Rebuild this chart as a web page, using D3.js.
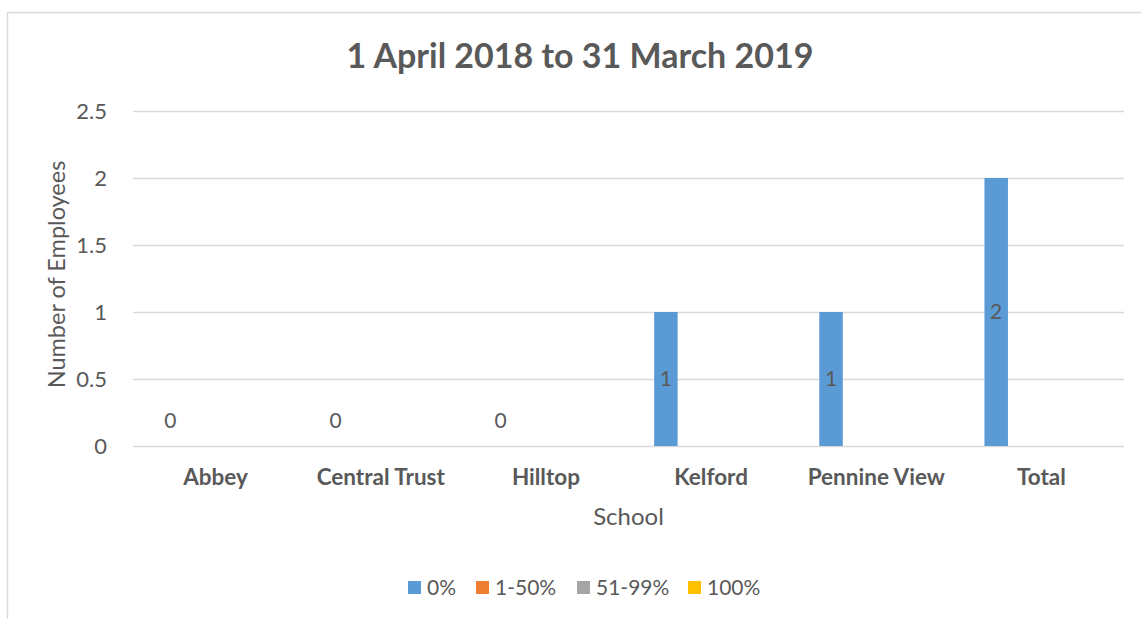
<!DOCTYPE html>
<html lang="en">
<head>
<meta charset="UTF-8">
<title>1 April 2018 to 31 March 2019</title>
<script src="https://d3js.org/d3.v7.min.js"></script>
<style>
  body { margin: 0; background: #fff; }
  text { font-family: Lato, "Open Sans", sans-serif; fill: #595959; }
</style>
</head>
<body>
<script>
  // data
  const schools = ["Abbey", "Central Trust", "Hilltop", "Kelford", "Pennine View", "Total"];
  const bands = ["0%", "1-50%", "51-99%", "100%"];
  const bandColors = ["#5B9BD5", "#ED7D31", "#A5A5A5", "#FFC000"];
  const zeroPct = [0, 0, 0, 1, 1, 2];
  const yTicks = [0, 0.5, 1, 1.5, 2, 2.5];

  const width = 1141, height = 619;
  const plot = { left: 133, right: 1124, top: 111, bottom: 446 };

  const svg = d3.select("body").append("svg")
    .attr("width", width)
    .attr("height", height);

  // chart frame (runs off the right and bottom edge)
  svg.append("rect")
    .attr("x", 7.5).attr("y", 12.5)
    .attr("width", 1160).attr("height", 640)
    .attr("fill", "none")
    .attr("stroke", "#D9D9D9")
    .attr("stroke-width", 1.5);

  const x = d3.scaleBand()
    .domain(schools)
    .range([plot.left, plot.right])
    .padding(0);

  const xInner = d3.scaleBand()
    .domain(bands)
    .range([0, x.bandwidth()])
    .paddingInner(0.22)
    .paddingOuter(0.85);

  const y = d3.scaleLinear()
    .domain([0, 2.5])
    .range([plot.bottom, plot.top]);

  // gridlines
  svg.append("g")
    .attr("transform", "translate(" + plot.left + ",0)")
    .call(d3.axisLeft(y).tickValues(yTicks).tickSize(-(plot.right - plot.left)).tickFormat(""))
    .call(g => g.select(".domain").remove())
    .call(g => g.selectAll("line").attr("stroke", "#D9D9D9").attr("stroke-width", 1.5));

  // y tick labels
  svg.append("g")
    .attr("transform", "translate(" + (plot.left - 23) + ",0)")
    .call(d3.axisLeft(y).tickValues(yTicks).tickSize(0).tickFormat(d3.format("")))
    .call(g => g.select(".domain").remove())
    .call(g => g.selectAll("text").style("font-size", "22px").attr("fill", "#595959"));

  // bars for the 0% series (the other series are empty)
  svg.append("g").selectAll("rect")
    .data(zeroPct)
    .join("rect")
    .attr("x", (d, i) => x(schools[i]) + xInner(bands[0]))
    .attr("y", d => y(d))
    .attr("width", xInner.bandwidth())
    .attr("height", d => y(0) - y(d))
    .attr("fill", bandColors[0]);

  // data labels
  svg.append("g").selectAll("text")
    .data(zeroPct)
    .join("text")
    .attr("x", (d, i) => x(schools[i]) + xInner(bands[0]) + xInner.bandwidth() / 2)
    .attr("y", d => d === 0 ? y(0) - 25 : (y(0) + y(d)) / 2)
    .attr("dy", "0.35em")
    .attr("text-anchor", "middle")
    .style("font-size", "21px")
    .attr("fill", "#404040")
    .text(d => d);

  // category labels
  svg.append("g").selectAll("text")
    .data(schools)
    .join("text")
    .attr("x", d => x(d) + x.bandwidth() / 2)
    .attr("y", 485)
    .attr("text-anchor", "middle")
    .style("font-size", "22.5px")
    .style("font-weight", "bold")
    .text(d => d);

  // axis titles
  svg.append("text")
    .attr("x", (plot.left + plot.right) / 2)
    .attr("y", 525)
    .attr("text-anchor", "middle")
    .style("font-size", "24px")
    .text("School");

  svg.append("text")
    .attr("transform", "translate(65," + ((plot.top + plot.bottom) / 2 - 4) + ") rotate(-90)")
    .attr("text-anchor", "middle")
    .style("font-size", "23.5px")
    .text("Number of Employees");

  // title
  svg.append("text")
    .attr("x", 580)
    .attr("y", 68)
    .attr("text-anchor", "middle")
    .style("font-size", "34px")
    .style("font-weight", "bold")
    .text("1 April 2018 to 31 March 2019");

  // legend
  const legendX = [408, 476, 577, 688];
  const legend = svg.append("g").selectAll("g")
    .data(bands)
    .join("g")
    .attr("transform", (d, i) => "translate(" + legendX[i] + ",581)");

  legend.append("rect")
    .attr("width", 13).attr("height", 13)
    .attr("fill", (d, i) => bandColors[i]);

  legend.append("text")
    .attr("x", 19)
    .attr("y", 6.5)
    .attr("dy", "0.35em")
    .style("font-size", "21px")
    .text(d => d);
</script>
</body>
</html>
